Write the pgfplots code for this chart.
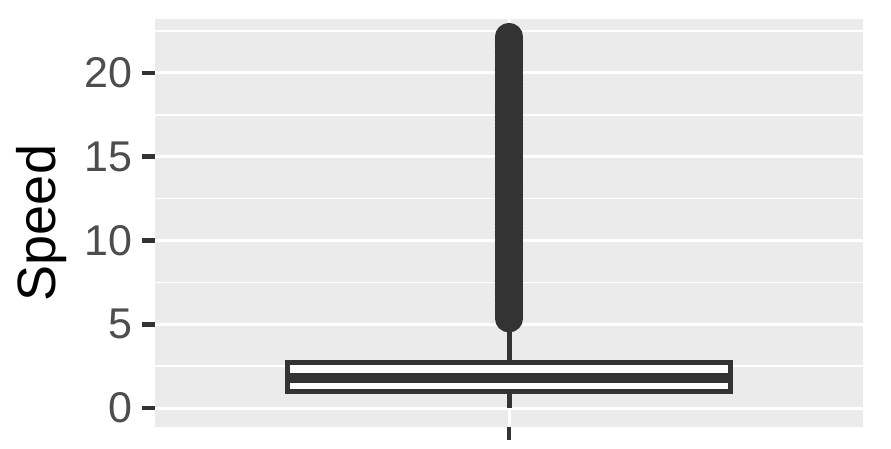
\documentclass[border=0pt]{standalone}
\usepackage{pgfplots}
\pgfplotsset{compat=1.18}
\usepgfplotslibrary{statistics}
\usepackage{fontspec}
\setmainfont{Liberation Sans}
\definecolor{panelbg}{HTML}{EBEBEB}
\definecolor{dark}{HTML}{333333}
\definecolor{ticklab}{HTML}{4D4D4D}
\begin{document}
\begin{tikzpicture}
\begin{axis}[name=ax, scale only axis, width=354bp, height=204bp,
 xmin=0.4, xmax=1.6, ymin=-1.13, ymax=23.22,
 axis background/.style={fill=panelbg},
 axis line style={draw=none},
 xtick={1}, xticklabels={},
 ytick={0,5,10,15,20}, minor ytick={2.5,7.5,12.5,17.5,22.5},
 xtick pos=bottom, ytick pos=left, tick align=outside,
 major tick length=6.5bp, minor tick length=0pt,
 tick style={dark, line width=2.4bp},
 xmajorgrids, ymajorgrids, yminorgrids,
 major grid style={white, line width=1.5bp},
 minor grid style={white, line width=0.75bp},
 tick label style={font=\fontsize{21.5bp}{25bp}\selectfont, text=ticklab},
 yticklabel style={xshift=-1.5bp},
 /pgf/number format/assume math mode=true,
 clip=false,
]
\addplot[boxplot/draw direction=y,
 boxplot prepared={draw position=1, lower whisker=0, lower quartile=0.96,
   median=1.77, upper quartile=2.69, upper whisker=4.78, box extend=0.75, whisker extend=0},
 draw=dark, fill=white, line width=2.5bp, solid,
 mark=*, mark size=5.75bp, mark options={fill=dark, draw=none},
 boxplot/every median/.style={line width=5bp}]
 table[row sep=\\, y index=0] {y\\ 5.35\\ 5.55\\ 5.75\\ 5.95\\ 6.15\\ 6.35\\ 6.55\\ 6.75\\ 6.95\\ 7.15\\ 7.35\\ 7.55\\ 7.75\\ 7.95\\ 8.15\\ 8.35\\ 8.55\\ 8.75\\ 8.95\\ 9.15\\ 9.35\\ 9.55\\ 9.75\\ 9.95\\ 10.15\\ 10.35\\ 10.55\\ 10.75\\ 10.95\\ 11.15\\ 11.35\\ 11.55\\ 11.75\\ 11.95\\ 12.15\\ 12.35\\ 12.55\\ 12.75\\ 12.95\\ 13.15\\ 13.35\\ 13.55\\ 13.75\\ 13.95\\ 14.15\\ 14.35\\ 14.55\\ 14.75\\ 14.95\\ 15.15\\ 15.35\\ 15.55\\ 15.75\\ 15.95\\ 16.15\\ 16.35\\ 16.55\\ 16.75\\ 16.95\\ 17.15\\ 17.35\\ 17.55\\ 17.75\\ 17.95\\ 18.15\\ 18.35\\ 18.55\\ 18.75\\ 18.95\\ 19.15\\ 19.35\\ 19.55\\ 19.75\\ 19.95\\ 20.15\\ 20.35\\ 20.55\\ 20.75\\ 20.95\\ 21.15\\ 21.35\\ 21.55\\ 21.75\\ 21.95\\ 22.15\\ };
\end{axis}
\node[rotate=90, anchor=base, font=\fontsize{27bp}{32bp}\selectfont] at ([xshift=-50bp]ax.west) {Speed};
\pgfresetboundingbox
\path[use as bounding box] ([xshift=-77.5bp,yshift=-11bp]ax.south west) rectangle ([xshift=14bp,yshift=9.5bp]ax.north east);
\end{tikzpicture}
\end{document}
